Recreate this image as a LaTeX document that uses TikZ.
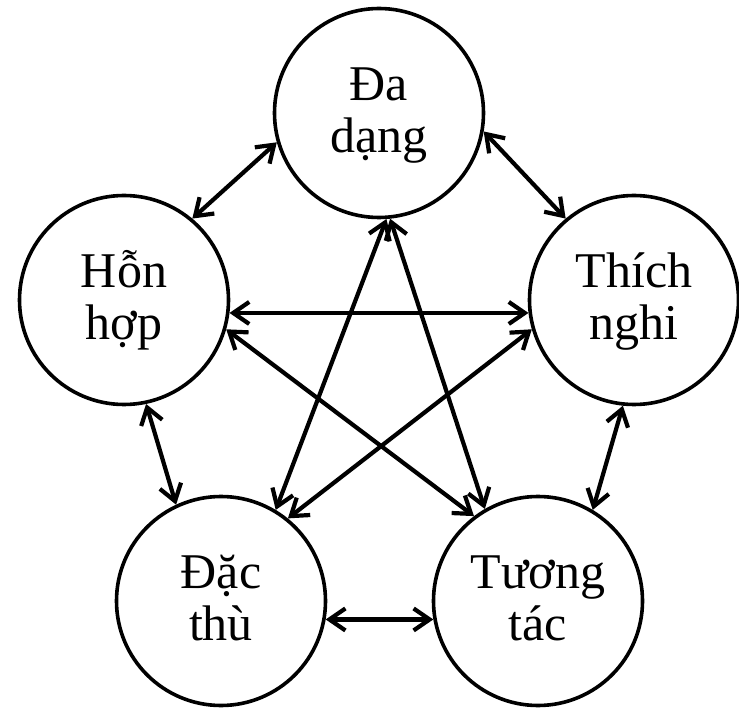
\documentclass[tikz,border=0pt]{standalone}
\usepackage{fontspec}
\setmainfont{Liberation Serif}
\usetikzlibrary{arrows.meta}
\begin{document}
\begin{tikzpicture}[x=1pt,y=-1pt,
  circ/.style={circle,draw,line width=3.6pt,minimum size=209pt,inner sep=0pt,align=center,
    font=\fontsize{50}{52}\selectfont},
  link/.style={line width=4.2pt,
    {Straight Barb[length=16pt,width=22pt]}-{Straight Barb[length=16pt,width=22pt]}}]
\useasboundingbox (0,0) rectangle (739,708);
\node[circ] (da) at (379,113) {\rule{0pt}{46pt}Đa\\dạng\rule[-19pt]{0pt}{19pt}};
\node[circ] (hh) at (124,300) {\rule{0pt}{46pt}Hỗn\\hợp\rule[-19pt]{0pt}{19pt}};
\node[circ] (tn) at (634,300) {\rule{0pt}{46pt}Thích\\nghi\rule[-19pt]{0pt}{19pt}};
\node[circ] (dt) at (221,601) {\rule{0pt}{46pt}Đặc\\thù\rule[-19pt]{0pt}{19pt}};
\node[circ] (tt) at (538,601) {\rule{0pt}{46pt}Tương\\tác\rule[-19pt]{0pt}{19pt}};
\draw[link] (da.196) -- (hh.50);
\draw[link] (da.-10) -- (tn.130);
\draw[link] (hh.-7) -- (tn.187);
\draw[link] (hh.-16) -- (tt.127);
\draw[link] (tn.196) -- (dt.51);
\draw[link] (da.-86) -- (dt.59);
\draw[link] (da.-84) -- (tt.120);
\draw[link] (hh.-78) -- (dt.115);
\draw[link] (tn.-96) -- (tt.59);
\draw[link] (dt.-10) -- (tt.190);
\end{tikzpicture}
\end{document}
